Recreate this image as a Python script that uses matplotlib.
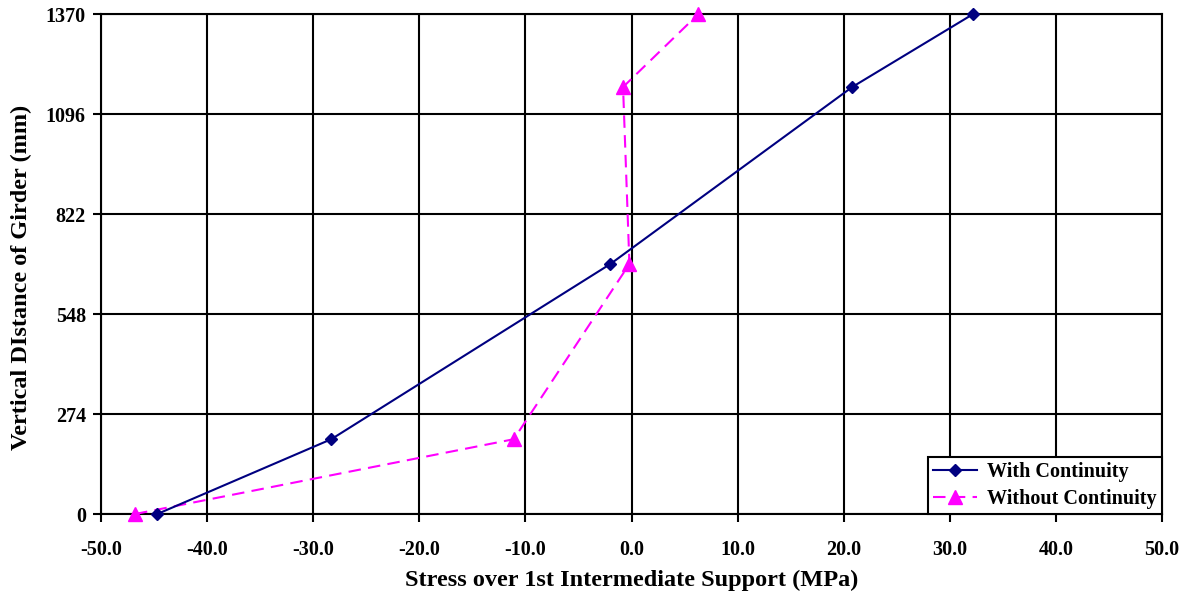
import matplotlib.pyplot as plt

plt.rcParams['font.family'] = ['Liberation Serif', 'DejaVu Serif']
plt.rcParams['font.weight'] = 'bold'

# stress (MPa) against height on the girder (mm)
height = [0, 205, 685, 1170, 1370]
with_cont = [-44.7, -28.3, -2.0, 20.8, 32.2]
without_cont = [-46.8, -11.1, -0.2, -0.8, 6.3]

x_ticks = [-50, -40, -30, -20, -10, 0, 10, 20, 30, 40, 50]
y_ticks = [0, 274, 548, 822, 1096, 1370]

fig = plt.figure(figsize=(11.86, 5.97), dpi=100)
ax = fig.add_axes([0.0852, 0.139, 0.8946, 0.8375])

ax.plot(with_cont, height, color='#000080', lw=1.5, marker='D', ms=6.5,
        label='With Continuity', clip_on=False, zorder=4)
ax.plot(without_cont, height, color='#FF00FF', lw=1.5, ls=(0, (6, 3.5)),
        marker='^', ms=10, label='Without Continuity', clip_on=False, zorder=3)

ax.set_xlim(-50, 50)
ax.set_ylim(0, 1370)
ax.set_xticks(x_ticks)
ax.set_xticklabels([f'{v:.1f}' for v in x_ticks])
ax.set_yticks(y_ticks)
ax.grid(True, color='black', lw=1.5)
ax.set_axisbelow(True)
for s in ax.spines.values():
    s.set_linewidth(1.5)
ax.tick_params(direction='out', length=6, width=1.5, labelsize=14.5)
ax.tick_params(axis='x', pad=13)
ax.tick_params(axis='y', pad=5)

ax.set_xlabel('Stress over 1st Intermediate Support (MPa)', fontsize=17.5,
              fontweight='bold', labelpad=7)
ax.set_ylabel('Vertical DIstance of Girder (mm)', fontsize=17.5,
              fontweight='bold')
ax.yaxis.set_label_coords(-0.065, 0.474)

leg = ax.legend(loc='lower right', bbox_to_anchor=(1.0, 0.0), fontsize=14.5,
                frameon=True, fancybox=False, edgecolor='black',
                borderaxespad=0, handlelength=2.2, borderpad=0.25,
                labelspacing=0.35, handletextpad=0.5)
leg.get_frame().set_linewidth(1.5)
leg.get_frame().set_alpha(1)

fig.savefig('out.png', dpi=100)
